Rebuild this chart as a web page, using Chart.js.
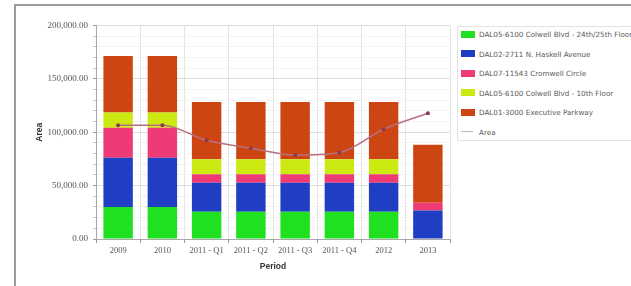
<!DOCTYPE html>
<html><head><meta charset="utf-8">
<script src="https://cdn.jsdelivr.net/npm/chart.js@4"></script>
<style>
html,body{margin:0;padding:0;width:631px;height:286px;overflow:hidden;background:#fff;}
#frame{position:absolute;left:14px;top:4px;width:700px;height:400px;border-top:2px solid #9c9c9c;border-left:2px solid #9c9c9c;}
#cv{position:absolute;left:0;top:0;}
#legend{position:absolute;left:457px;top:26px;width:220px;height:113px;border:1px solid #e2e2e2;background:#fff;font:7.2px "DejaVu Sans",sans-serif;color:#5a5a5a;}
.item{position:absolute;left:3px;height:10px;line-height:10px;white-space:nowrap;}
.sw{display:inline-block;width:14px;height:7px;vertical-align:middle;margin-right:4px;position:relative;top:-1px;}
.ln{display:inline-block;width:12px;height:1px;vertical-align:middle;margin-right:6px;background:#b8b8b8;position:relative;top:-1px;}
</style>
</head><body>
<div id="frame"></div>
<canvas id="cv" width="631" height="286"></canvas>
<div id="legend"></div>
<script>
const categories = ['2009','2010','2011 - Q1','2011 - Q2','2011 - Q3','2011 - Q4','2012','2013'];
const seriesNames = ['DAL05-6100 Colwell Blvd - 24th/25th Floor','DAL02-2711 N. Haskell Avenue','DAL07-11543 Cromwell Circle','DAL05-6100 Colwell Blvd - 10th Floor','DAL01-3000 Executive Parkway'];
const colwell2425 = [30000,30000,25600,25600,25600,25600,25600,0];
const haskell = [46200,46200,27200,27200,27200,27200,27200,26800];
const cromwell = [28000,28000,7800,7800,7800,7800,7800,7200];
const colwell10 = [14200,14200,14100,14100,14100,14100,14100,0];
const executive = [53000,53000,53700,53700,53700,53700,53700,54300];
const areaName = 'Area';
const areaLine = [106600,106600,92500,85000,78700,80900,102800,117800];
const yTicks = [0,50000,100000,150000,200000];

const colors = ['#1fe11f','#1f3ec4','#ee3b76','#ccea12','#cd4512'];
const barSeries = [colwell2425,haskell,cromwell,colwell10,executive];

const datasets = barSeries.map((d,i)=>({
  type:'bar', label:seriesNames[i], data:d, backgroundColor:colors[i],
  borderWidth:0, stack:'bars', order:1,
  barPercentage:0.665, categoryPercentage:1
}));
datasets.push({
  type:'line', label:areaName, data:areaLine, stack:'line', order:0,
  borderColor:'#b87080', borderWidth:1.5, cubicInterpolationMode:'monotone',
  pointRadius:2, pointBackgroundColor:'#8a3a4c', pointBorderWidth:0, fill:false
});

const fmt = v => v.toLocaleString('en-US',{minimumFractionDigits:2,maximumFractionDigits:2});

new Chart(document.getElementById('cv'),{
  data:{labels:categories, datasets},
  options:{
    responsive:false, animation:false, devicePixelRatio:1,
    layout:{padding:{left:30,right:181,top:25.5,bottom:0}},
    plugins:{legend:{display:false},tooltip:{enabled:false}},
    scales:{
      x:{stacked:true,
        grid:{offset:true,color:'#e4e4e4',tickColor:'#999',tickLength:4},
        border:{color:'#a8a8a8'},
        ticks:{font:{family:'Liberation Serif',size:8.5},color:'#555',padding:3,autoSkip:false,maxRotation:0},
        title:{display:true,text:'Period',font:{family:'Liberation Sans',size:8.5,weight:'bold'},color:'#333',padding:{top:0,bottom:14}},
        afterFit:s=>{s.height=47;}
      },
      y:{stacked:true,min:0,max:200000,
        grid:{color:c=>(c.tick && yTicks.includes(c.tick.value))?'#dedede':'#f3f3f3',
              tickColor:c=>(c.tick && yTicks.includes(c.tick.value))?'#999':'#c4c4c4',tickLength:3},
        border:{color:'#a8a8a8'},
        ticks:{stepSize:10000,autoSkip:false,font:{family:'Liberation Serif',size:9},color:'#555',padding:5,
          callback:v=>yTicks.includes(v)?fmt(v):''},
        title:{display:true,text:'Area',font:{family:'Liberation Sans',size:8.5,weight:'bold'},color:'#333',padding:{top:5}},
        afterFit:s=>{s.width=66;}
      }
    }
  }
});

const lg = document.getElementById('legend');
const rowTops = 3, rowStep = 19.5;
seriesNames.concat([areaName]).forEach((name,i)=>{
  const d = document.createElement('div');
  d.className='item';
  d.style.top = (rowTops + i*rowStep)+'px';
  const m = document.createElement('span');
  if(i<seriesNames.length){m.className='sw';m.style.background=colors[i];}
  else {m.className='ln';}
  d.appendChild(m);
  d.appendChild(document.createTextNode(name));
  lg.appendChild(d);
});
</script>
</body></html>
